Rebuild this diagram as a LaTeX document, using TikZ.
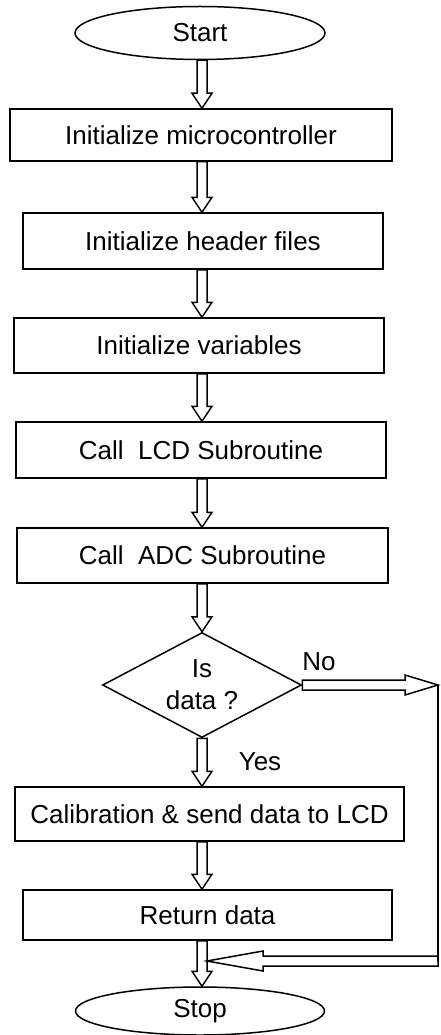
\documentclass[tikz,border=0pt]{standalone}
\usepackage{fontspec}
\setmainfont{Liberation Sans}
\usetikzlibrary{shapes.geometric,calc}

\tikzset{
    block/.style={draw, rectangle, line width=1.5pt, inner sep=0pt},
    terminal/.style={draw, ellipse, line width=1.5pt, inner sep=0pt},
    decision/.style={draw, diamond, aspect=2, line width=1.5pt, inner sep=0pt, align=center},
    hollowarrow/.style={line width=1.5pt, line join=miter, to path={
        ($(\tikztostart)!5pt!90:(\tikztotarget)$)
        -- ($(\tikztotarget)!#1!(\tikztostart)!5pt!-90:(\tikztostart)$)
        -- ($(\tikztotarget)!#1!(\tikztostart)!10pt!-90:(\tikztostart)$)
        -- (\tikztotarget)
        -- ($(\tikztotarget)!#1!(\tikztostart)!10pt!90:(\tikztostart)$)
        -- ($(\tikztotarget)!#1!(\tikztostart)!5pt!90:(\tikztostart)$)
        -- ($(\tikztostart)!5pt!-90:(\tikztotarget)$)
        -- cycle}},
    hollowarrow/.default=15pt
}

\begin{document}
\begin{tikzpicture}[x=1pt, y=-1pt, font=\fontsize{26}{32}\selectfont]
    \useasboundingbox (0, 0) rectangle (440, 1035);

    \coordinate (axis) at (202, 0);

    \node[terminal, minimum width=250pt, minimum height=53pt] (start) at (200, 33) {Start};
    \node[block, minimum width=382pt, minimum height=52pt] (init) at (201, 135) {Initialize microcontroller};
    \node[block, minimum width=360pt, minimum height=56pt] (header) at (203, 241) {Initialize header files};
    \node[block, minimum width=370pt, minimum height=55pt] (vars) at (199, 345.5) {Initialize variables};
    \node[block, minimum width=370pt, minimum height=56pt] (lcd) at (201, 450) {Call\ \ LCD Subroutine};
    \node[block, minimum width=371pt, minimum height=55pt] (adc) at (202.5, 555.5) {Call\ \ ADC Subroutine};
    \node[decision, minimum width=199pt, minimum height=105pt] (isdata) at (202, 685) {Is\\data ?};
    \node[block, minimum width=389pt, minimum height=54pt] (calib) at (209.5, 814) {Calibration \& send data to LCD};
    \node[block, minimum width=369pt, minimum height=50pt] (ret) at (207.5, 915) {Return data};
    \node[terminal, minimum width=249pt, minimum height=48pt] (stop) at (200, 1011) {Stop};

    \node (no) at (319, 662) {No};
    \node (yes) at (260, 762) {Yes};

    \coordinate (noend) at (438, 685);
    \coordinate (corner) at (438, 961);
    \coordinate (join) at (207, 961);

    \draw[hollowarrow] (start.south -| axis) to (init.north -| axis);
    \draw[hollowarrow] (init.south -| axis) to (header.north -| axis);
    \draw[hollowarrow] (header.south -| axis) to (vars.north -| axis);
    \draw[hollowarrow] (vars.south -| axis) to (lcd.north -| axis);
    \draw[hollowarrow] (lcd.south -| axis) to (adc.north -| axis);
    \draw[hollowarrow] (adc.south -| axis) to (isdata.north);
    \draw[hollowarrow] (isdata.south) to (calib.north -| axis);
    \draw[hollowarrow] (calib.south -| axis) to (ret.north -| axis);
    \draw[hollowarrow] (ret.south -| axis) to (stop.north -| axis);

    % no-branch runs round to the end
    \draw[hollowarrow=33pt] (isdata.east) to (noend);
    \draw[line width=1.5pt] (noend) -- (corner);
    \draw[hollowarrow=56pt] (corner) to (join);
\end{tikzpicture}
\end{document}
